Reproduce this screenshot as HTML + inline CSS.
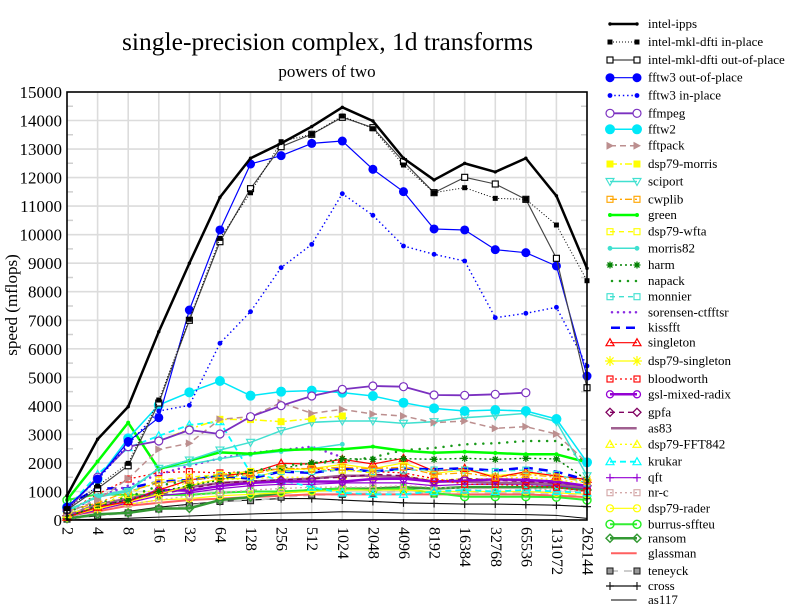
<!DOCTYPE html>
<html><head><meta charset="utf-8">
<style>
html,body{margin:0;padding:0;background:#fff;}
svg{display:block;}
marker{overflow:visible;}
.d polyline,.L path{fill:none;stroke-linejoin:round;}
.s1{stroke:#000;stroke-width:88px;marker-start:url(#m1);marker-mid:url(#m1);marker-end:url(#m1)}
.s2{stroke:#000;stroke-width:35px;stroke-dasharray:35px,70px;marker-start:url(#m2);marker-mid:url(#m2);marker-end:url(#m2)}
.s3{stroke:#444;stroke-width:40px;marker-start:url(#m3);marker-mid:url(#m3);marker-end:url(#m3)}
.s4{stroke:#0000ff;stroke-width:42px;marker-start:url(#m4);marker-mid:url(#m4);marker-end:url(#m4)}
.s5{stroke:#0000ff;stroke-width:50px;stroke-dasharray:50px,100px;marker-start:url(#m5);marker-mid:url(#m5);marker-end:url(#m5)}
.s6{stroke:#7b30c0;stroke-width:63px;marker-start:url(#m6);marker-mid:url(#m6);marker-end:url(#m6)}
.s7{stroke:#00e8f8;stroke-width:53px;marker-start:url(#m7);marker-mid:url(#m7);marker-end:url(#m7)}
.s8{stroke:#bc8f8f;stroke-width:53px;stroke-dasharray:210px,140px;marker-start:url(#m8);marker-mid:url(#m8);marker-end:url(#m8)}
.s9{stroke:#ffff00;stroke-width:53px;stroke-dasharray:245px,105px,70px,105px;marker-start:url(#m9);marker-mid:url(#m9);marker-end:url(#m9)}
.s10{stroke:#40e0d0;stroke-width:53px;marker-start:url(#m10);marker-mid:url(#m10);marker-end:url(#m10)}
.s11{stroke:#ffa500;stroke-width:45px;stroke-dasharray:245px,105px,70px,105px;marker-start:url(#m11);marker-mid:url(#m11);marker-end:url(#m11)}
.s12{stroke:#00ff00;stroke-width:88px;marker-start:url(#m12);marker-mid:url(#m12);marker-end:url(#m12)}
.s13{stroke:#ffff00;stroke-width:45px;stroke-dasharray:175px,140px;marker-start:url(#m13);marker-mid:url(#m13);marker-end:url(#m13)}
.s14{stroke:#40e0d0;stroke-width:53px;marker-start:url(#m14);marker-mid:url(#m14);marker-end:url(#m14)}
.s15{stroke:#008000;stroke-width:50px;stroke-dasharray:70px,105px;marker-start:url(#m15);marker-mid:url(#m15);marker-end:url(#m15)}
.s16{stroke:#1a9a1a;stroke-width:88px;stroke-linecap:round;stroke-dasharray:0px,280px}
.s17{stroke:#40e0d0;stroke-width:45px;stroke-dasharray:175px,140px;marker-start:url(#m17);marker-mid:url(#m17);marker-end:url(#m17)}
.s18{stroke:#8a2be2;stroke-width:88px;stroke-linecap:round;stroke-dasharray:0px,210px}
.s19{stroke:#0000ff;stroke-width:88px;stroke-dasharray:315px,210px}
.s20{stroke:#ff0000;stroke-width:42px;marker-start:url(#m20);marker-mid:url(#m20);marker-end:url(#m20)}
.s21{stroke:#ffff00;stroke-width:42px;marker-start:url(#m21);marker-mid:url(#m21);marker-end:url(#m21)}
.s22{stroke:#ff0000;stroke-width:45px;stroke-dasharray:70px,105px;marker-start:url(#m22);marker-mid:url(#m22);marker-end:url(#m22)}
.s23{stroke:#9400d3;stroke-width:88px;marker-start:url(#m23);marker-mid:url(#m23);marker-end:url(#m23)}
.s24{stroke:#800060;stroke-width:50px;stroke-dasharray:175px,140px;marker-start:url(#m24);marker-mid:url(#m24);marker-end:url(#m24)}
.s25{stroke:#a06090;stroke-width:88px}
.s26{stroke:#ffff00;stroke-width:45px;stroke-dasharray:70px,105px;marker-start:url(#m26);marker-mid:url(#m26);marker-end:url(#m26)}
.s27{stroke:#00ffff;stroke-width:63px;stroke-dasharray:210px,140px;marker-start:url(#m27);marker-mid:url(#m27);marker-end:url(#m27)}
.s28{stroke:#9400d3;stroke-width:42px;marker-start:url(#m28);marker-mid:url(#m28);marker-end:url(#m28)}
.s29{stroke:#d4a8a8;stroke-width:45px;stroke-dasharray:70px,105px;marker-start:url(#m29);marker-mid:url(#m29);marker-end:url(#m29)}
.s30{stroke:#ffff00;stroke-width:42px;marker-start:url(#m30);marker-mid:url(#m30);marker-end:url(#m30)}
.s31{stroke:#33ee33;stroke-width:70px;marker-start:url(#m31);marker-mid:url(#m31);marker-end:url(#m31)}
.s32{stroke:#339933;stroke-width:88px;marker-start:url(#m32);marker-mid:url(#m32);marker-end:url(#m32)}
.s33{stroke:#ff6060;stroke-width:70px}
.s34{stroke:#cccccc;stroke-width:70px;stroke-dasharray:280px,210px;marker-start:url(#m34);marker-mid:url(#m34);marker-end:url(#m34)}
.s35{stroke:#111;stroke-width:40px;marker-start:url(#m35);marker-mid:url(#m35);marker-end:url(#m35)}
.s36{stroke:#000;stroke-width:35px}
text{font-family:"Liberation Serif","DejaVu Serif",serif;fill:#000;}
.lt{font-size:13px;}
.yt{font-size:17px;}
.xt{font-size:16px;}
</style></head>
<body>
<svg width="792" height="612" viewBox="0 0 792 612" xmlns="http://www.w3.org/2000/svg">
<defs>
<marker id="m1" markerUnits="userSpaceOnUse" overflow="visible" refX="0" refY="0"><circle r="60" fill="#000"/></marker>
<marker id="m2" markerUnits="userSpaceOnUse" overflow="visible" refX="0" refY="0"><rect x="-88" y="-88" width="175" height="175" fill="#000"/></marker>
<marker id="m3" markerUnits="userSpaceOnUse" overflow="visible" refX="0" refY="0"><rect x="-105" y="-105" width="210" height="210" fill="#fff" stroke="#000" stroke-width="40"/></marker>
<marker id="m4" markerUnits="userSpaceOnUse" overflow="visible" refX="0" refY="0"><circle r="158" fill="#0000ff"/></marker>
<marker id="m5" markerUnits="userSpaceOnUse" overflow="visible" refX="0" refY="0"><circle r="85" fill="#0000ff"/></marker>
<marker id="m6" markerUnits="userSpaceOnUse" overflow="visible" refX="0" refY="0"><circle r="140" fill="#fff" stroke="#7b30c0" stroke-width="42"/></marker>
<marker id="m7" markerUnits="userSpaceOnUse" overflow="visible" refX="0" refY="0"><circle r="175" fill="#00e8f8"/></marker>
<marker id="m8" markerUnits="userSpaceOnUse" overflow="visible" refX="0" refY="0"><polygon points="-123,-140 140,0 -123,140" fill="#bc8f8f"/></marker>
<marker id="m9" markerUnits="userSpaceOnUse" overflow="visible" refX="0" refY="0"><rect x="-123" y="-123" width="245" height="245" fill="#ffff00"/></marker>
<marker id="m10" markerUnits="userSpaceOnUse" overflow="visible" refX="0" refY="0"><polygon points="-140,105 140,105 0,-140" fill="none" stroke="#40e0d0" stroke-width="40"/></marker>
<marker id="m11" markerUnits="userSpaceOnUse" overflow="visible" refX="0" refY="0"><rect x="-105" y="-105" width="210" height="210" fill="none" stroke="#ffa500" stroke-width="40"/></marker>
<marker id="m12" markerUnits="userSpaceOnUse" overflow="visible" refX="0" refY="0"><circle r="70" fill="#00ff00"/></marker>
<marker id="m13" markerUnits="userSpaceOnUse" overflow="visible" refX="0" refY="0"><rect x="-105" y="-105" width="210" height="210" fill="none" stroke="#ffff00" stroke-width="40"/></marker>
<marker id="m14" markerUnits="userSpaceOnUse" overflow="visible" refX="0" refY="0"><circle r="85" fill="#40e0d0"/></marker>
<marker id="m15" markerUnits="userSpaceOnUse" overflow="visible" refX="0" refY="0"><path d="M-123,0H123M0,-123V123M-88,-88L88,88M-88,88L88,-88" stroke="#008000" stroke-width="45" fill="none"/></marker>
<marker id="m17" markerUnits="userSpaceOnUse" overflow="visible" refX="0" refY="0"><rect x="-105" y="-105" width="210" height="210" fill="none" stroke="#40e0d0" stroke-width="40"/></marker>
<marker id="m20" markerUnits="userSpaceOnUse" overflow="visible" refX="0" refY="0"><polygon points="-140,-105 140,-105 0,140" fill="none" stroke="#ff0000" stroke-width="42"/></marker>
<marker id="m21" markerUnits="userSpaceOnUse" overflow="visible" refX="0" refY="0"><path d="M-175,0H175M0,-175V175M-125,-125L125,125M-125,125L125,-125" stroke="#ffff00" stroke-width="42" fill="none"/></marker>
<marker id="m22" markerUnits="userSpaceOnUse" overflow="visible" refX="0" refY="0"><rect x="-105" y="-105" width="210" height="210" fill="none" stroke="#ff0000" stroke-width="40"/></marker>
<marker id="m23" markerUnits="userSpaceOnUse" overflow="visible" refX="0" refY="0"><circle r="123" fill="none" stroke="#9400d3" stroke-width="45"/></marker>
<marker id="m24" markerUnits="userSpaceOnUse" overflow="visible" refX="0" refY="0"><polygon points="0,140 140,0 0,-140 -140,0" fill="none" stroke="#800060" stroke-width="45"/></marker>
<marker id="m26" markerUnits="userSpaceOnUse" overflow="visible" refX="0" refY="0"><polygon points="-140,-105 140,-105 0,140" fill="none" stroke="#ffff00" stroke-width="42"/></marker>
<marker id="m27" markerUnits="userSpaceOnUse" overflow="visible" refX="0" refY="0"><polygon points="-140,-105 140,-105 0,140" fill="none" stroke="#00ffff" stroke-width="42"/></marker>
<marker id="m28" markerUnits="userSpaceOnUse" overflow="visible" refX="0" refY="0"><path d="M-140,0H140M0,-140V140" stroke="#9400d3" stroke-width="40" fill="none"/></marker>
<marker id="m29" markerUnits="userSpaceOnUse" overflow="visible" refX="0" refY="0"><rect x="-105" y="-105" width="210" height="210" fill="none" stroke="#d4a8a8" stroke-width="40"/></marker>
<marker id="m30" markerUnits="userSpaceOnUse" overflow="visible" refX="0" refY="0"><circle r="123" fill="none" stroke="#ffff00" stroke-width="42"/></marker>
<marker id="m31" markerUnits="userSpaceOnUse" overflow="visible" refX="0" refY="0"><circle r="140" fill="none" stroke="#22ee22" stroke-width="50"/></marker>
<marker id="m32" markerUnits="userSpaceOnUse" overflow="visible" refX="0" refY="0"><polygon points="0,140 140,0 0,-140 -140,0" fill="none" stroke="#339933" stroke-width="50"/></marker>
<marker id="m34" markerUnits="userSpaceOnUse" overflow="visible" refX="0" refY="0"><rect x="-105" y="-105" width="210" height="210" fill="#999" stroke="#222" stroke-width="38"/></marker>
<marker id="m35" markerUnits="userSpaceOnUse" overflow="visible" refX="0" refY="0"><path d="M-140,0H140M0,-140V140" stroke="#111" stroke-width="40" fill="none"/></marker>
</defs>

<rect x="0" y="0" width="792" height="612" fill="#fff"/>

<!-- grid -->
<path d="M97.6,92V520M128.2,92V520M158.8,92V520M189.4,92V520M220,92V520M250.5,92V520M281.1,92V520M311.7,92V520M342.3,92V520M372.9,92V520M403.5,92V520M434.1,92V520M464.7,92V520M495.3,92V520M525.9,92V520M556.4,92V520
M67,491.5H587M67,462.9H587M67,434.4H587M67,405.9H587M67,377.3H587M67,348.8H587M67,320.3H587M67,291.7H587M67,263.2H587M67,234.7H587M67,206.1H587M67,177.6H587M67,149.1H587M67,120.5H587" stroke="#dcdcdc" stroke-width="1.6" fill="none"/>
<path d="M67,505.7h6M67,477.2h6M67,448.7h6M67,420.1h6M67,391.6h6M67,363.1h6M67,334.5h6M67,306h6M67,277.5h6M67,248.9h6M67,220.4h6M67,191.9h6M67,163.3h6M67,134.8h6M67,106.3h6
M581,505.7h6M581,477.2h6M581,448.7h6M581,420.1h6M581,391.6h6M581,363.1h6M581,334.5h6M581,306h6M581,277.5h6M581,248.9h6M581,220.4h6M581,191.9h6M581,163.3h6M581,134.8h6M581,106.3h6" stroke="#cfcfcf" stroke-width="1.5" fill="none"/>

<!-- data -->
<g class="d" transform="translate(67,520) scale(0.02853,-0.02853)">
<polyline class="s36" points="0,0 1072,30 2144,60 3217,100 4289,140 5361,180 6433,210 7505,240 8578,260 9650,290 10722,270 11794,240 12866,234 13939,220 15011,200 16083,190 17155,160 18227,58"/>
<polyline class="s35" points="0,30 1072,150 2144,300 3217,450 4289,550 5361,650 6433,700 7505,750 8578,750 9650,700 10722,650 11794,600 12866,580 13939,560 15011,560 16083,540 17155,520 18227,467"/>
<polyline class="s34" points="0,30 1072,150 2144,250 3217,385 4289,500 5361,650 6433,677 7505,797 8578,876 9650,900 10722,935 11794,1027 12866,911 13939,1003 15011,950 16083,950 17155,900 18227,850"/>
<polyline class="s33" points="0,150 1072,300 2144,500 3217,600 4289,700 5361,750 6433,800 7505,850 8578,900 9650,900 10722,900 11794,900 12866,900 13939,900 15011,900 16083,900 17155,850 18227,800"/>
<polyline class="s32" points="0,50 1072,200 2144,250 3217,400 4289,409 5361,700 6433,800 7505,950 8578,1050 9650,1100 10722,1100 11794,1150 12866,1100 13939,1150 15011,1150 16083,1150 17155,1150 18227,1050"/>
<polyline class="s31" points="0,700 1072,900 2144,880 3217,880 4289,880 5361,957 6433,1000 7505,1000 8578,1050 9650,1100 10722,1050 11794,1100 12866,950 13939,817 15011,817 16083,817 17155,800 18227,701"/>
<polyline class="s30" points="0,250 1072,400 2144,550 3217,700 4289,750 5361,850 6433,900 7505,950 8578,1000 9650,1050 10722,1050 11794,1050 12866,1000 13939,1000 15011,1000 16083,1000 17155,950 18227,900"/>
<polyline class="s29" points="0,200 1072,400 2144,550 3217,700 4289,850 5361,950 6433,1050 7505,1100 8578,1150 9650,1150 10722,1150 11794,1200 12866,1150 13939,1100 15011,1100 16083,1100 17155,1050 18227,1000"/>
<polyline class="s28" points="0,100 1072,350 2144,600 3217,850 4289,950 5361,1100 6433,1200 7505,1250 8578,1250 9650,1300 10722,1300 11794,1300 12866,1200 13939,1250 15011,1250 16083,1250 17155,1200 18227,1100"/>
<polyline class="s27" points="0,400 1072,1600 2144,2535 3217,2950 4289,3330 5361,3446 6433,1650 7505,1400 8578,1150 9650,950 10722,900 11794,900 12866,1000 13939,1050 15011,1000 16083,1050 17155,1000 18227,950"/>
<polyline class="s26" points="0,100 1072,500 2144,800 3217,1100 4289,1300 5361,1400 6433,1450 7505,1500 8578,1500 9650,1550 10722,1500 11794,1550 12866,1400 13939,1450 15011,1450 16083,1500 17155,1400 18227,1300"/>
<polyline class="s25" points="0,150 1072,550 2144,750 3217,950 4289,1150 5361,1300 6433,1350 7505,1400 8578,1450 9650,1550 10722,1550 11794,1500 12866,1350 13939,1350 15011,1300 16083,1300 17155,1250 18227,1150"/>
<polyline class="s24" points="0,150 1072,500 2144,700 3217,900 4289,1100 5361,1300 6433,1350 7505,1400 8578,1450 9650,1500 10722,1600 11794,1550 12866,1350 13939,1450 15011,1400 16083,1350 17155,1300 18227,1200"/>
<polyline class="s23" points="0,100 1072,450 2144,650 3217,1051 4289,1030 5361,1190 6433,1300 7505,1350 8578,1350 9650,1343 10722,1437 11794,1450 12866,1343 13939,1380 15011,1425 16083,1400 17155,1343 18227,1197"/>
<polyline class="s22" points="0,300 1072,900 2144,1437 3217,1660 4289,1693 5361,1650 6433,1693 7505,1800 8578,1780 9650,1752 10722,1700 11794,1650 12866,1450 13939,1250 15011,1250 16083,1200 17155,1150 18227,1000"/>
<polyline class="s21" points="0,100 1072,400 2144,650 3217,900 4289,1200 5361,1450 6433,1450 7505,1750 8578,1800 9650,1950 10722,1800 11794,2000 12866,1636 13939,1750 15011,1550 16083,1650 17155,1550 18227,1400"/>
<polyline class="s20" points="0,100 1072,450 2144,650 3217,1050 4289,1402 5361,1550 6433,1650 7505,1986 8578,1963 9650,2127 10722,1963 11794,2162 12866,1717 13939,1810 15011,1484 16083,1694 17155,1543 18227,1425"/>
<polyline class="s19" points="0,500 1072,1110 2144,1110 3217,1343 4289,1402 5361,1543 6433,1450 7505,1700 8578,1650 9650,1800 10722,1700 11794,1800 12866,1776 13939,1810 15011,1730 16083,1835 17155,1694 18227,1400"/>
<polyline class="s18" points="0,300 1072,800 2144,1200 3217,1600 4289,1900 5361,2162 6433,2350 7505,2450 8578,2570 9650,2200"/>
<polyline class="s17" points="0,300 1072,800 2144,1000 3217,1300 4289,1400 5361,1550 6433,1500 7505,1700 8578,1700 9650,1750 10722,1700 11794,1750 12866,1752 13939,1750 15011,1700 16083,1750 17155,1600 18227,1300"/>
<polyline class="s16" points="0,300 1072,600 2144,800 3217,1200 4289,1400 5361,1600 6433,1700 7505,1900 8578,2000 9650,2050 10722,2200 11794,2450 12866,2524 13939,2653 15011,2690 16083,2769 17155,2769 18227,2000"/>
<polyline class="s15" points="0,100 1072,500 2144,700 3217,1000 4289,1200 5361,1400 6433,1700 7505,1800 8578,2000 9650,2150 10722,2127 11794,2150 12866,2127 13939,2162 15011,2127 16083,2162 17155,2140 18227,1400"/>
<polyline class="s14" points="0,300 1072,850 2144,1050 3217,1800 4289,1950 5361,2150 6433,2300 7505,2400 8578,2500 9650,2653"/>
<polyline class="s13" points="0,200 1072,500 2144,900 3217,1400 4289,1500 5361,1600 6433,1700 7505,1750 8578,1800 9650,1750 10722,1650"/>
<polyline class="s12" points="0,700 1072,2050 2144,3411 3217,1787 4289,2080 5361,2372 6433,2320 7505,2450 8578,2480 9650,2478 10722,2570 11794,2429 12866,2359 13939,2394 15011,2348 16083,2303 17155,2303 18227,2022"/>
<polyline class="s11" points="0,300 1072,600 2144,1000 3217,1300 4289,1400 5361,1500 6433,1600 7505,1810 8578,1800 9650,1850 10722,1800 11794,1850 12866,1600 13939,1650 15011,1500 16083,1600 17155,1500 18227,1350"/>
<polyline class="s10" points="0,350 1072,800 2144,1000 3217,1810 4289,2100 5361,2453 6433,2723 7505,3130 8578,3424 9650,3470 10722,3470 11794,3388 12866,3446 13939,3586 15011,3656 16083,3738 17155,3446 18227,1550"/>
<polyline class="s9" points="3217,2770 4289,3190 5361,3529 6433,3520 7505,3446 8578,3550 9650,3645"/>
<polyline class="s8" points="0,250 1072,700 2144,1450 3217,2477 4289,2688 5361,3529 6433,3620 7505,4112 8578,3738 9650,3879 10722,3715 11794,3645 12866,3411 13939,3470 15011,3213 16083,3271 17155,3014 18227,2000"/>
<polyline class="s7" points="0,450 1072,1437 2144,2863 3217,4031 4289,4475 5361,4872 6433,4358 7505,4498 8578,4533 9650,4463 10722,4346 11794,4112 12866,3914 13939,3820 15011,3855 16083,3820 17155,3540 18227,2022"/>
<polyline class="s6" points="0,350 1072,1500 2144,2570 3217,2769 4289,3155 5361,3014 6433,3621 7505,4007 8578,4346 9650,4580 10722,4697 11794,4673 12866,4381 13939,4370 15011,4405 16083,4463"/>
<polyline class="s5" points="0,450 1072,1400 2144,2650 3217,3820 4289,4020 5361,6193 6433,7302 7505,8845 8578,9661 9650,11438 10722,10680 11794,9604 12866,9312 13939,9078 15011,7091 16083,7244 17155,7455 18227,5398"/>
<polyline class="s4" points="0,450 1072,1437 2144,2750 3217,3586 4289,7360 5361,10165 6433,12478 7505,12770 8578,13200 9650,13284 10722,12292 11794,11508 12866,10200 13939,10165 15011,9475 16083,9370 17155,8903 18227,5047"/>
<polyline class="s3" points="0,350 1072,1100 2144,1900 3217,4100 4289,7000 5361,9755 6433,11613 7505,13085 8578,13520 9650,14115 10722,13752 11794,12560 12866,11473 13939,12011 15011,11777 16083,11240 17155,9172 18227,4637"/>
<polyline class="s2" points="0,400 1072,1190 2144,1986 3217,4206 4289,7035 5361,9870 6433,11470 7505,13260 8578,13520 9650,14160 10722,13716 11794,12443 12866,11473 13939,11648 15011,11274 16083,11240 17155,10340 18227,8388"/>
<polyline class="s1" points="0,850 1072,2830 2144,3970 3217,6600 4289,9000 5361,11310 6433,12680 7505,13200 8578,13790 9650,14465 10722,13985 11794,12680 12866,11920 13939,12500 15011,12200 16083,12680 17155,11360 18227,8820"/>
</g>

<!-- frame -->
<rect x="67" y="92" width="520" height="428" fill="none" stroke="#000" stroke-width="1.6"/>

<!-- titles -->
<text x="327.5" y="50" font-size="25" text-anchor="middle" textLength="411" lengthAdjust="spacingAndGlyphs">single-precision complex, 1d transforms</text>
<text x="327" y="77" font-size="17" text-anchor="middle">powers of two</text>
<text transform="translate(17,305) rotate(-90)" font-size="17" text-anchor="middle">speed (mflops)</text>

<!-- y tick labels -->
<g class="yt" text-anchor="end">
<text x="62" y="526">0</text>
<text x="62" y="497.5">1000</text>
<text x="62" y="468.9">2000</text>
<text x="62" y="440.4">3000</text>
<text x="62" y="411.9">4000</text>
<text x="62" y="383.3">5000</text>
<text x="62" y="354.8">6000</text>
<text x="62" y="326.3">7000</text>
<text x="62" y="297.7">8000</text>
<text x="62" y="269.2">9000</text>
<text x="62" y="240.7">10000</text>
<text x="62" y="212.1">11000</text>
<text x="62" y="183.6">12000</text>
<text x="62" y="155.1">13000</text>
<text x="62" y="126.5">14000</text>
<text x="62" y="98">15000</text>
</g>

<!-- x tick labels -->
<g class="xt" dominant-baseline="central">
<text transform="translate(67,527) rotate(90)">2</text>
<text transform="translate(97.6,527) rotate(90)">4</text>
<text transform="translate(128.2,527) rotate(90)">8</text>
<text transform="translate(158.8,527) rotate(90)">16</text>
<text transform="translate(189.4,527) rotate(90)">32</text>
<text transform="translate(220,527) rotate(90)">64</text>
<text transform="translate(250.5,527) rotate(90)">128</text>
<text transform="translate(281.1,527) rotate(90)">256</text>
<text transform="translate(311.7,527) rotate(90)">512</text>
<text transform="translate(342.3,527) rotate(90)">1024</text>
<text transform="translate(372.9,527) rotate(90)">2048</text>
<text transform="translate(403.5,527) rotate(90)">4096</text>
<text transform="translate(434.1,527) rotate(90)">8192</text>
<text transform="translate(464.7,527) rotate(90)">16384</text>
<text transform="translate(495.3,527) rotate(90)">32768</text>
<text transform="translate(525.9,527) rotate(90)">65536</text>
<text transform="translate(556.4,527) rotate(90)">131072</text>
<text transform="translate(587,527) rotate(90)">262144</text>
</g>

<!-- legend samples -->
<g class="L">
<g transform="translate(610,24) scale(0.02853,-0.02853)"><path class="s1" d="M0,0H946"/></g>
<g transform="translate(610,42) scale(0.02853,-0.02853)"><path class="s2" d="M0,0H946"/></g>
<g transform="translate(610,60) scale(0.02853,-0.02853)"><path class="s3" d="M0,0H946"/></g>
<g transform="translate(610,77.7) scale(0.02853,-0.02853)"><path class="s4" d="M0,0H946"/></g>
<g transform="translate(610,95.5) scale(0.02853,-0.02853)"><path class="s5" d="M0,0H946"/></g>
<g transform="translate(610,113.3) scale(0.02853,-0.02853)"><path class="s6" d="M0,0H946"/></g>
<g transform="translate(610,129.3) scale(0.02853,-0.02853)"><path class="s7" d="M0,0H946"/></g>
<g transform="translate(610,145.7) scale(0.02853,-0.02853)"><path class="s8" d="M0,0H946"/></g>
<g transform="translate(610,164) scale(0.02853,-0.02853)"><path class="s9" d="M0,0H946"/></g>
<g transform="translate(610,181.5) scale(0.02853,-0.02853)"><path class="s10" d="M0,0H946"/></g>
<g transform="translate(610,199.3) scale(0.02853,-0.02853)"><path class="s11" d="M0,0H946"/></g>
<g transform="translate(610,215) scale(0.02853,-0.02853)"><path class="s12" d="M0,0H946"/></g>
<g transform="translate(610,231.7) scale(0.02853,-0.02853)"><path class="s13" d="M0,0H946"/></g>
<g transform="translate(610,248.3) scale(0.02853,-0.02853)"><path class="s14" d="M0,0H946"/></g>
<g transform="translate(610,265) scale(0.02853,-0.02853)"><path class="s15" d="M0,0H946"/></g>
<g transform="translate(612,281) scale(0.02853,-0.02853)"><path class="s16" d="M0,0H860"/></g>
<g transform="translate(610,296.7) scale(0.02853,-0.02853)"><path class="s17" d="M0,0H946"/></g>
<g transform="translate(612,312.3) scale(0.02853,-0.02853)"><path class="s18" d="M0,0H860"/></g>
<g transform="translate(611,327.7) scale(0.02853,-0.02853)"><path class="s19" d="M0,0H900"/></g>
<g transform="translate(610,342.7) scale(0.02853,-0.02853)"><path class="s20" d="M0,0H946"/></g>
<g transform="translate(610,361) scale(0.02853,-0.02853)"><path class="s21" d="M0,0H946"/></g>
<g transform="translate(610,379) scale(0.02853,-0.02853)"><path class="s22" d="M0,0H946"/></g>
<g transform="translate(610,394.3) scale(0.02853,-0.02853)"><path class="s23" d="M0,0H946"/></g>
<g transform="translate(610,412.3) scale(0.02853,-0.02853)"><path class="s24" d="M0,0H946"/></g>
<g transform="translate(611,428.3) scale(0.02853,-0.02853)"><path class="s25" d="M0,0H900"/></g>
<g transform="translate(610,444.3) scale(0.02853,-0.02853)"><path class="s26" d="M0,0H946"/></g>
<g transform="translate(610,461.7) scale(0.02853,-0.02853)"><path class="s27" d="M0,0H946"/></g>
<g transform="translate(610,477.7) scale(0.02853,-0.02853)"><path class="s28" d="M0,0H946"/></g>
<g transform="translate(610,492.7) scale(0.02853,-0.02853)"><path class="s29" d="M0,0H946"/></g>
<g transform="translate(610,508.3) scale(0.02853,-0.02853)"><path class="s30" d="M0,0H946"/></g>
<g transform="translate(610,524.3) scale(0.02853,-0.02853)"><path class="s31" d="M0,0H946"/></g>
<g transform="translate(610,538.3) scale(0.02853,-0.02853)"><path class="s32" d="M0,0H946"/></g>
<g transform="translate(611,553.3) scale(0.02853,-0.02853)"><path class="s33" d="M0,0H900"/></g>
<g transform="translate(610,571) scale(0.02853,-0.02853)"><path class="s34" d="M0,0H946"/></g>
<g transform="translate(610,586) scale(0.02853,-0.02853)"><path class="s35" d="M0,0H946"/></g>
<g transform="translate(611,600) scale(0.02853,-0.02853)"><path class="s36" d="M0,0H900"/></g>
</g>

<!-- legend labels -->
<g class="lt">
<text x="648" y="28">intel-ipps</text>
<text x="648" y="46">intel-mkl-dfti in-place</text>
<text x="648" y="64">intel-mkl-dfti out-of-place</text>
<text x="648" y="81.7">fftw3 out-of-place</text>
<text x="648" y="99.5">fftw3 in-place</text>
<text x="648" y="117.3">ffmpeg</text>
<text x="648" y="133.3">fftw2</text>
<text x="648" y="149.7">fftpack</text>
<text x="648" y="168">dsp79-morris</text>
<text x="648" y="185.5">sciport</text>
<text x="648" y="203.3">cwplib</text>
<text x="648" y="219">green</text>
<text x="648" y="235.7">dsp79-wfta</text>
<text x="648" y="252.3">morris82</text>
<text x="648" y="269">harm</text>
<text x="648" y="285">napack</text>
<text x="648" y="300.7">monnier</text>
<text x="648" y="316.3">sorensen-ctfftsr</text>
<text x="648" y="331.7">kissfft</text>
<text x="648" y="346.7">singleton</text>
<text x="648" y="365">dsp79-singleton</text>
<text x="648" y="383">bloodworth</text>
<text x="648" y="398.3">gsl-mixed-radix</text>
<text x="648" y="416.3">gpfa</text>
<text x="648" y="432.3">as83</text>
<text x="648" y="448.3">dsp79-FFT842</text>
<text x="648" y="465.7">krukar</text>
<text x="648" y="481.7">qft</text>
<text x="648" y="496.7">nr-c</text>
<text x="648" y="512.3">dsp79-rader</text>
<text x="648" y="528.3">burrus-sffteu</text>
<text x="648" y="542.3">ransom</text>
<text x="648" y="557.3">glassman</text>
<text x="648" y="575">teneyck</text>
<text x="648" y="590">cross</text>
<text x="648" y="604">as117</text>
</g>
</svg>
</body></html>
